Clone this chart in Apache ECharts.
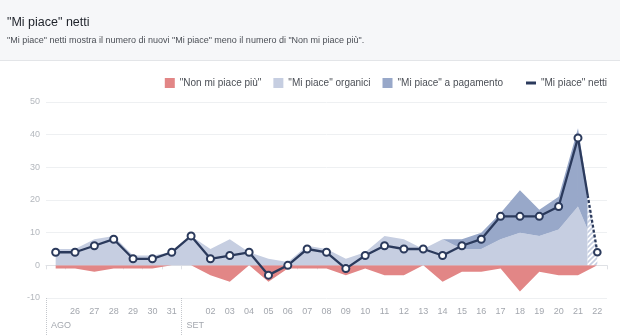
<!DOCTYPE html>
<html>
<head>
<meta charset="utf-8">
<script src="https://cdn.jsdelivr.net/npm/echarts@6/dist/echarts.min.js"></script>
<style>
html,body{margin:0;padding:0;background:#fff;}
#chart{width:620px;height:335px;}
</style>
</head>
<body>
<div id="chart"></div>
<script>
// ---- data ----
const categories = ['25','26','27','28','29','30','31','01','02','03','04','05','06','07','08','09','10','11','12','13','14','15','16','17','18','19','20','21','22'];
const tickLabels = ['','26','27','28','29','30','31','','02','03','04','05','06','07','08','09','10','11','12','13','14','15','16','17','18','19','20','21','22'];
const monthStarts = [['AGO', 0], ['SET', 7]];
const unlikes = [-1,-1,-2,-1,-1,-1,0,0,-3,-5,0,-5,-1,-1,-1,-3,-1,-3,-3,0,-5,-2,-2,-1,-8,-2,-3,-3,0];
const organic = [5,5,8,9,3,3,4,9,5,8,4,2,1,6,5,2,4,9,8,5,8,5,5,8,10,9,11,18,4];
const paid    = [0,0,0,0,0,0,0,0,0,0,0,0,0,0,0,0,0,0,0,0,0,3,5,8,13,8,10,24,0];
const net     = [4,4,6,8,2,2,4,9,2,3,4,-3,0,5,4,-1,3,6,5,5,3,6,8,15,15,15,18,39,4];
const yTicks = {min: -10, max: 50, step: 10};
const lastFull = 27; // last complete day; the final day is partial (hatched)

const names = ['"Non mi piace più"', '"Mi piace" organici', '"Mi piace" a pagamento', '"Mi piace" netti'];
const C = {red: '#e28686', light: '#c6cee1', dark: '#98a8c9', navy: '#2b3a5c'};

const full = arr => arr.map((v, k) => k <= lastFull ? v : null);

// hatch pattern
const pat = document.createElement('canvas');
pat.width = 5; pat.height = 5;
(function(){
  const g = pat.getContext('2d');
  g.fillStyle = '#fff'; g.fillRect(0,0,5,5);
  g.strokeStyle = C.light; g.lineWidth = 1.6;
  g.beginPath();
  g.moveTo(0,5); g.lineTo(5,0);
  g.moveTo(-1,1); g.lineTo(1,-1);
  g.moveTo(4,6); g.lineTo(6,4);
  g.stroke();
})();

function renderTail(params, api) {
  const i = api.value(0), j = i + 1;
  const c = (k, v) => api.coord([k, v]);
  const z0 = c(i, 0), z1 = c(j, 0);
  const o0 = c(i, organic[i]), o1 = c(j, organic[j]);
  const t0 = c(i, organic[i] + paid[i]), t1 = c(j, organic[j] + paid[j]);
  const n0 = c(i, net[i]), n1 = c(j, net[j]);
  const xm = (z0[0] + z1[0]) / 2;
  const mid = (a, b) => [xm, (a[1] + b[1]) / 2];
  const om = mid(o0, o1), tm = mid(t0, t1), nm = mid(n0, n1), zm = [xm, z0[1]];
  return {
    type: 'group',
    children: [
      {type: 'polygon', shape: {points: [z0, o0, om, zm]}, style: {fill: C.light}},
      {type: 'polygon', shape: {points: [o0, t0, tm, om]}, style: {fill: C.dark}},
      {type: 'polygon', shape: {points: [zm, nm, n1, z1]}, style: {fill: {image: pat, repeat: 'repeat'}}},
      {type: 'polyline', shape: {points: [n0, nm]}, style: {stroke: C.navy, lineWidth: 2.3, fill: null}},
      {type: 'polyline', shape: {points: [nm, n1]}, style: {stroke: C.navy, lineWidth: 2.3, lineDash: [3, 2], fill: null}},
      {type: 'circle', shape: {cx: n1[0], cy: n1[1], r: 3.3}, style: {fill: '#fff', stroke: C.navy, lineWidth: 2}}
    ]
  };
}

const font = '"Liberation Sans", Arial, Helvetica, sans-serif';
const chart = echarts.init(document.getElementById('chart'), null, {renderer: 'canvas'});
const option = {
  animation: false,
  textStyle: {fontFamily: font},
  graphic: [
    {type: 'rect', left: 0, top: 0, z: -10, silent: true, shape: {width: 620, height: 60}, style: {fill: '#f6f7f9'}},
    {type: 'rect', left: 0, top: 60, z: -10, silent: true, shape: {width: 620, height: 1}, style: {fill: '#e3e5e8'}}
  ],
  title: {
    text: '"Mi piace" netti',
    subtext: '"Mi piace" netti mostra il numero di nuovi "Mi piace" meno il numero di "Non mi piace più".',
    left: 2, top: 11, itemGap: 7,
    textStyle: {fontFamily: font, fontSize: 12.5, fontWeight: 'normal', color: '#1d2129'},
    subtextStyle: {fontFamily: font, fontSize: 9, color: '#4b4f56'}
  },
  legend: [
    {
      right: 112, top: 73, itemWidth: 10, itemHeight: 10, itemGap: 12,
      textStyle: {fontFamily: font, fontSize: 10, color: '#4b4f56'},
      data: [
        {name: names[0], icon: 'rect', itemStyle: {color: C.red, borderWidth: 0}},
        {name: names[1], icon: 'rect', itemStyle: {color: C.light, borderWidth: 0}},
        {name: names[2], icon: 'rect', itemStyle: {color: C.dark, borderWidth: 0}}
      ]
    },
    {
      right: 8, top: 73, itemWidth: 10, itemHeight: 3,
      textStyle: {fontFamily: font, fontSize: 10, color: '#4b4f56'},
      data: [{name: names[3], icon: 'rect', itemStyle: {color: C.navy, borderWidth: 0}}]
    }
  ],
  grid: {left: 46, right: 13, top: 102, bottom: 37},
  xAxis: [
    {
      type: 'category', data: categories, boundaryGap: true,
      axisLine: {lineStyle: {color: '#dfe1e5'}},
      axisTick: {show: true, length: 4, lineStyle: {color: '#dfe1e5'}},
      axisLabel: {interval: 0, margin: 9, fontSize: 9, color: '#a3a7ae', formatter: (v, k) => tickLabels[k]},
      splitLine: {show: false}
    },
    {
      type: 'category', position: 'bottom', boundaryGap: false,
      data: categories.concat(['']).map((d, k) => String(k)),
      axisLine: {show: false},
      axisTick: {show: true, length: 37, interval: (k) => monthStarts.some(m => m[1] === k),
                 lineStyle: {color: '#c4c7cc', type: 'dotted'}},
      axisLabel: {interval: 0, margin: 23, fontSize: 9, color: '#a3a7ae', align: 'left',
                  formatter: (v, k) => { const m = monthStarts.find(x => x[1] === k); return m ? '{m|' + m[0] + '}' : ''; },
                  rich: {m: {padding: [0, 0, 0, 5], fontSize: 9, color: '#a3a7ae', fontFamily: font}}},
      splitLine: {show: false}
    }
  ],
  yAxis: {
    type: 'value', min: yTicks.min, max: yTicks.max, interval: yTicks.step,
    axisLine: {show: false}, axisTick: {show: false},
    axisLabel: {margin: 6, fontSize: 9, color: '#b4b8be'},
    splitLine: {lineStyle: {color: '#eef0f2'}}
  },
  series: [
    {name: names[0], type: 'line', data: unlikes, symbol: 'none', lineStyle: {width: 0},
     itemStyle: {color: C.red}, areaStyle: {color: C.red, opacity: 1}, z: 2},
    {name: names[1], type: 'line', stack: 'pos', data: full(organic), symbol: 'none', lineStyle: {width: 0},
     itemStyle: {color: C.light}, areaStyle: {color: C.light, opacity: 1}, z: 2},
    {name: names[2], type: 'line', stack: 'pos', data: full(paid), symbol: 'none', lineStyle: {width: 0},
     itemStyle: {color: C.dark}, areaStyle: {color: C.dark, opacity: 1}, z: 2},
    {type: 'custom', renderItem: renderTail, data: [[lastFull, 0]], z: 3, silent: true},
    {name: names[3], type: 'line', data: full(net), symbol: 'circle', symbolSize: 7, showAllSymbol: true,
     lineStyle: {color: C.navy, width: 2.3}, itemStyle: {color: '#fff', borderColor: C.navy, borderWidth: 2}, z: 4}
  ]
};
chart.setOption(option);
</script>
</body>
</html>
